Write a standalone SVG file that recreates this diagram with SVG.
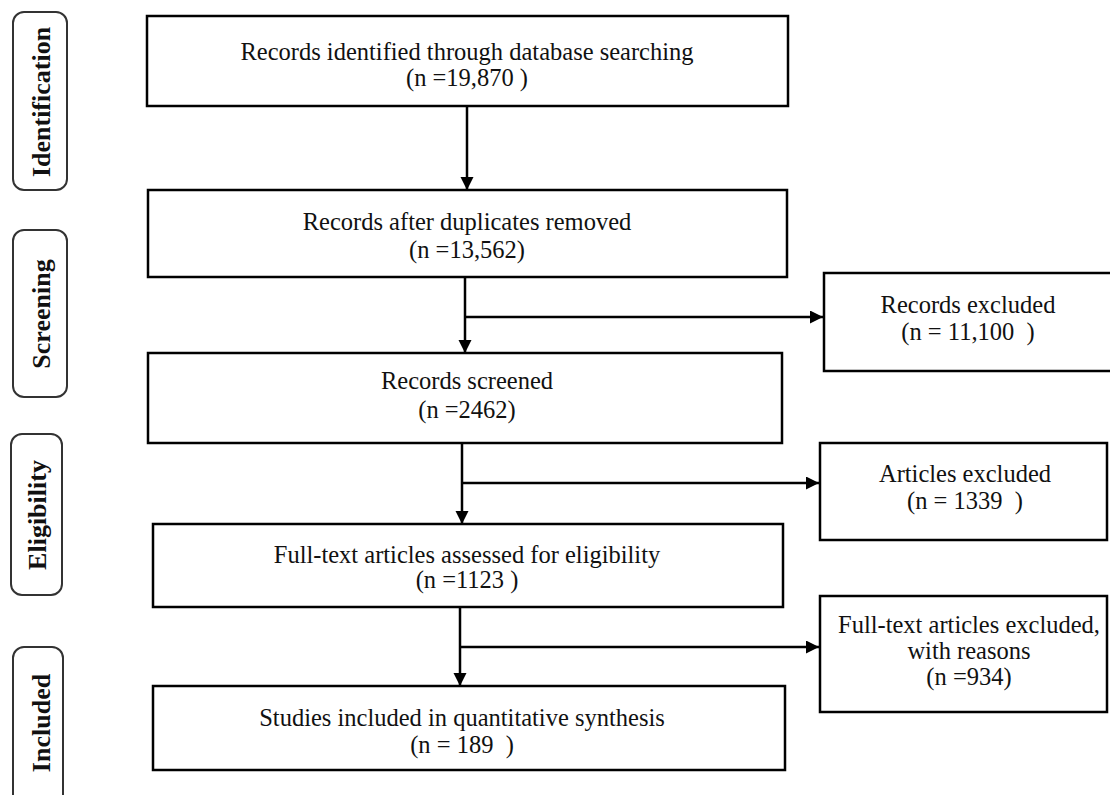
<svg xmlns="http://www.w3.org/2000/svg" width="1110" height="795" viewBox="0 0 1110 795">
<defs>
<marker id="ah" markerUnits="userSpaceOnUse" markerWidth="14" markerHeight="14" refX="13" refY="6.5" orient="auto">
<path d="M0,0 L13,6.5 L0,13 Z" fill="#000"/>
</marker>
<style>
.box{fill:#fff;stroke:#000;stroke-width:2.5}
.loz{fill:#fff;stroke:#333;stroke-width:2}
.t{font-family:"Liberation Serif","Times New Roman",serif;font-size:24.5px;fill:#111;text-anchor:middle;white-space:pre}
.lb{font-family:"Liberation Serif","Times New Roman",serif;font-size:26px;font-weight:bold;fill:#111;text-anchor:middle}
.c{fill:none;stroke:#000;stroke-width:2.5}
</style>
</defs>
<rect width="1110" height="795" fill="#fff"/>
<g id="stage-identification">
<rect class="loz" x="13" y="12" width="54" height="178" rx="11"/>
<text class="lb" transform="translate(50,102) rotate(-90)">Identification</text>
</g>
<g id="stage-screening">
<rect class="loz" x="13" y="230" width="54" height="167" rx="11"/>
<text class="lb" transform="translate(50,314) rotate(-90)">Screening</text>
</g>
<g id="stage-eligibility">
<rect class="loz" x="11" y="434" width="51" height="161" rx="11"/>
<text class="lb" transform="translate(46,515) rotate(-90)">Eligibility</text>
</g>
<g id="stage-included">
<rect class="loz" x="13" y="647" width="50" height="165" rx="11"/>
<text class="lb" transform="translate(50,723) rotate(-90)">Included</text>
</g>
<g id="identified">
<rect class="box" x="147" y="16" width="641" height="90"/>
<text class="t" x="467" y="60">Records identified through database searching</text>
<text class="t" x="467" y="86">(n =19,870 )</text>
</g>
<g id="deduplicated">
<rect class="box" x="148" y="190" width="639" height="87"/>
<text class="t" x="467" y="230">Records after duplicates removed</text>
<text class="t" x="467" y="258">(n =13,562)</text>
</g>
<g id="screened">
<rect class="box" x="148" y="353" width="634" height="90"/>
<text class="t" x="467" y="389">Records screened</text>
<text class="t" x="467" y="418">(n =2462)</text>
</g>
<g id="fulltext">
<rect class="box" x="153" y="524" width="630" height="83"/>
<text class="t" x="467" y="563">Full-text articles assessed for eligibility</text>
<text class="t" x="467" y="588">(n =1123 )</text>
</g>
<g id="included">
<rect class="box" x="153" y="686" width="632" height="84"/>
<text class="t" x="462" y="726">Studies included in quantitative synthesis</text>
<text class="t" x="462" y="753">(n = 189  )</text>
</g>
<g id="records-excluded">
<rect class="box" x="824" y="273" width="290" height="98"/>
<text class="t" x="968" y="313">Records excluded</text>
<text class="t" x="968" y="340">(n = 11,100  )</text>
</g>
<g id="articles-excluded">
<rect class="box" x="820" y="443" width="287" height="97"/>
<text class="t" x="965" y="482">Articles excluded</text>
<text class="t" x="965" y="509">(n = 1339  )</text>
</g>
<g id="fulltext-excluded">
<rect class="box" x="820" y="596" width="287" height="116"/>
<text class="t" x="969" y="633">Full-text articles excluded,</text>
<text class="t" x="969" y="659">with reasons</text>
<text class="t" x="969" y="685">(n =934)</text>
</g>
<g id="connectors">
<line class="c" x1="467" y1="106" x2="467" y2="190" marker-end="url(#ah)"/>
<line class="c" x1="465" y1="277" x2="465" y2="353" marker-end="url(#ah)"/>
<line class="c" x1="465" y1="317" x2="823" y2="317" marker-end="url(#ah)"/>
<line class="c" x1="462" y1="443" x2="462" y2="524" marker-end="url(#ah)"/>
<line class="c" x1="462" y1="483" x2="819" y2="483" marker-end="url(#ah)"/>
<line class="c" x1="460" y1="607" x2="460" y2="686" marker-end="url(#ah)"/>
<line class="c" x1="460" y1="647" x2="819" y2="647" marker-end="url(#ah)"/>
</g>
</svg>
